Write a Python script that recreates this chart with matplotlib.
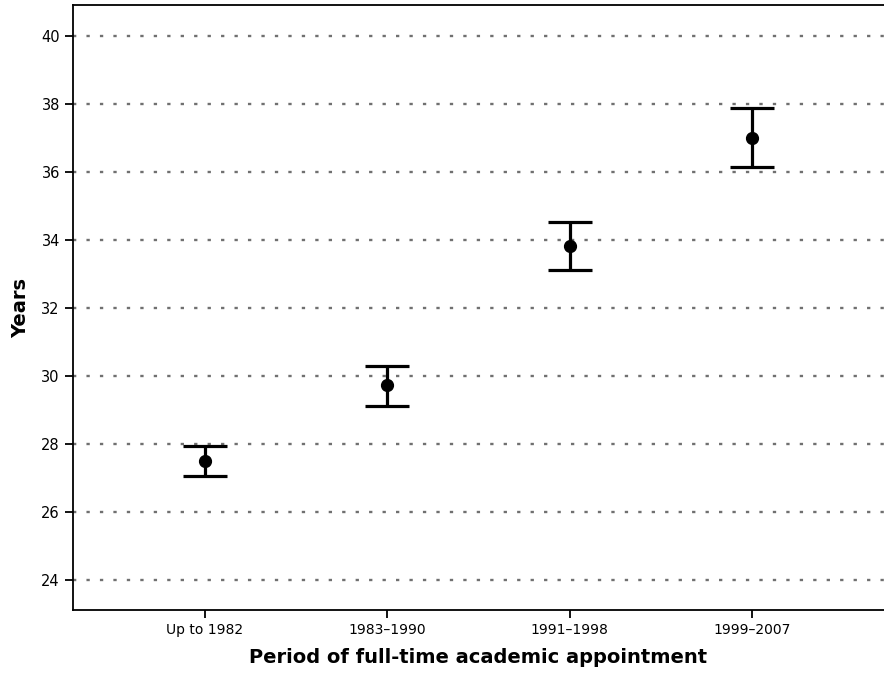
import matplotlib
matplotlib.use('Agg')
import matplotlib.pyplot as plt
import numpy as np

periods = ['Up to 1982', '1983\u20131990', '1991\u20131998', '1999\u20132007']
means = [27.51, 29.73, 33.83, 37.0]
upper = [27.95, 30.29, 34.53, 37.88]
lower = [27.07, 29.13, 33.11, 36.14]
yticks = [24, 26, 28, 30, 32, 34, 36, 38, 40]

fig = plt.figure(figsize=(8.84, 6.76), dpi=100)
ax = fig.add_axes([0.0826, 0.0976, 0.9174, 0.895])

x = np.arange(len(periods))
m = np.array(means)
err = [m - np.array(lower), np.array(upper) - m]

for yv in yticks:
    ax.axhline(yv, color='#707070', linestyle=(0, (1.4, 4.3)), linewidth=1.7, zorder=1)

ax.errorbar(x, m, yerr=err, fmt='o', color='black', ms=8.5, elinewidth=2.3,
            capsize=16, capthick=2.3, zorder=3)

ax.set_xlim(-0.72, 3.72)
ax.set_ylim(23.12, 40.91)
ax.set_yticks(yticks)
ax.set_xticks(x)
ax.set_xticklabels(periods, fontsize=10)
ax.tick_params(axis='y', labelsize=10.5, length=6, width=1.3, direction='out')
ax.tick_params(axis='x', length=6, width=1.3, direction='out')
ax.spines['right'].set_visible(False)
for s in ['left', 'top', 'bottom']:
    ax.spines[s].set_linewidth(1.3)

ax.set_ylabel('Years', fontsize=14, fontweight='bold', labelpad=8)
ax.set_xlabel('Period of full-time academic appointment', fontsize=14, fontweight='bold', labelpad=8)

fig.savefig('out.png', dpi=100)
